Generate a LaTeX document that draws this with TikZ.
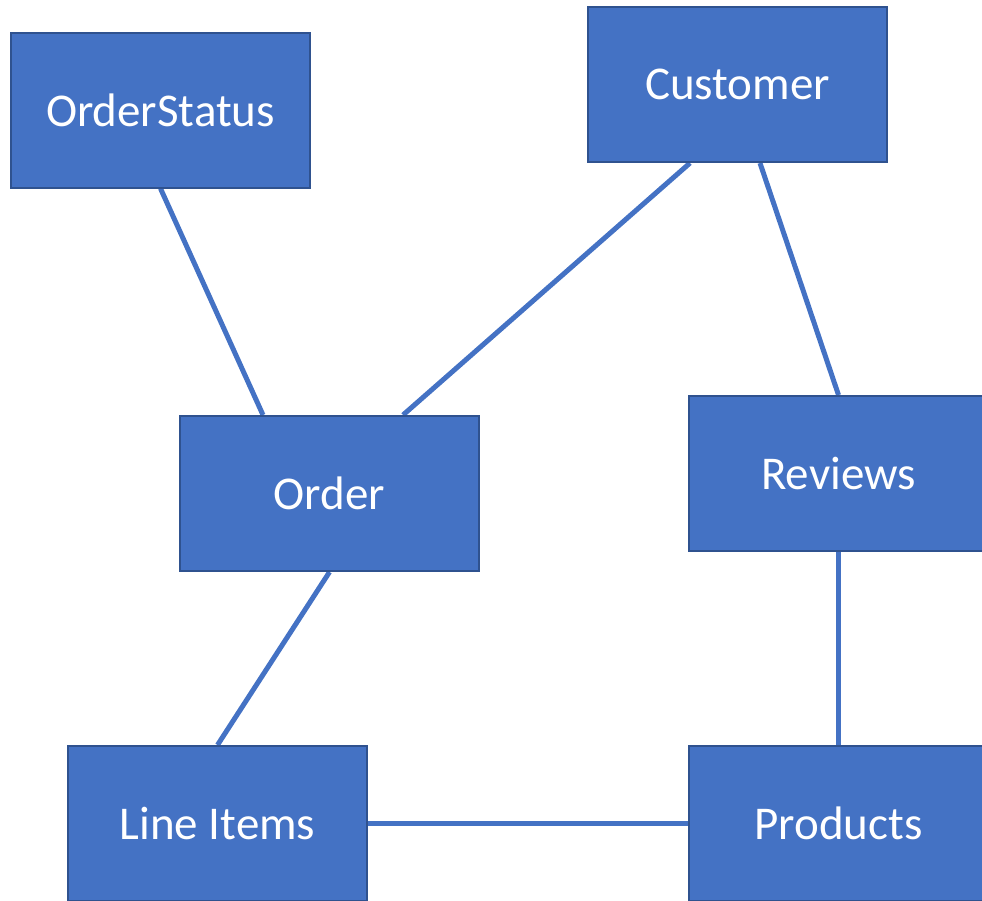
\documentclass[tikz,border=0pt]{standalone}
\usepackage{fontspec}
\setmainfont{Carlito}
\usetikzlibrary{backgrounds}
\definecolor{boxfill}{HTML}{4472C4}
\definecolor{boxline}{HTML}{2F528F}
\tikzset{
  entity/.style={draw=boxline, line width=2pt, fill=boxfill, text=white,
    minimum width=299pt, minimum height=155pt, inner sep=0pt,
    font=\fontsize{47}{54}\selectfont},
  link/.style={draw=boxfill, line width=5pt}
}
\begin{document}
\begin{tikzpicture}[x=1pt,y=-1pt]
\useasboundingbox (0,0) rectangle (982,900);
\clip (0,0) rectangle (982,900);
\node[entity] (os) at (160.5,110) {OrderStatus};
\node[entity] (cu) at (737.5,84.5) {Customer};
\node[entity] (or) at (329.5,493.5) {Order};
\node[entity] (re) at (838.5,473.5) {Reviews};
\node[entity] (li) at (217.5,823.5) {Line Items};
\node[entity] (pr) at (838.5,823.5) {Products};
\begin{scope}[on background layer]
\draw[link] (os.south) -- ([xshift=-66.5pt]or.north);
\draw[link] ([xshift=-47.5pt]cu.south) -- ([xshift=73.5pt]or.north);
\draw[link] ([xshift=22.5pt]cu.south) -- (re.north);
\draw[link] (or.south) -- (li.north);
\draw[link] (re.south) -- (pr.north);
\draw[link] (li.east) -- (pr.west);
\end{scope}
\end{tikzpicture}
\end{document}
